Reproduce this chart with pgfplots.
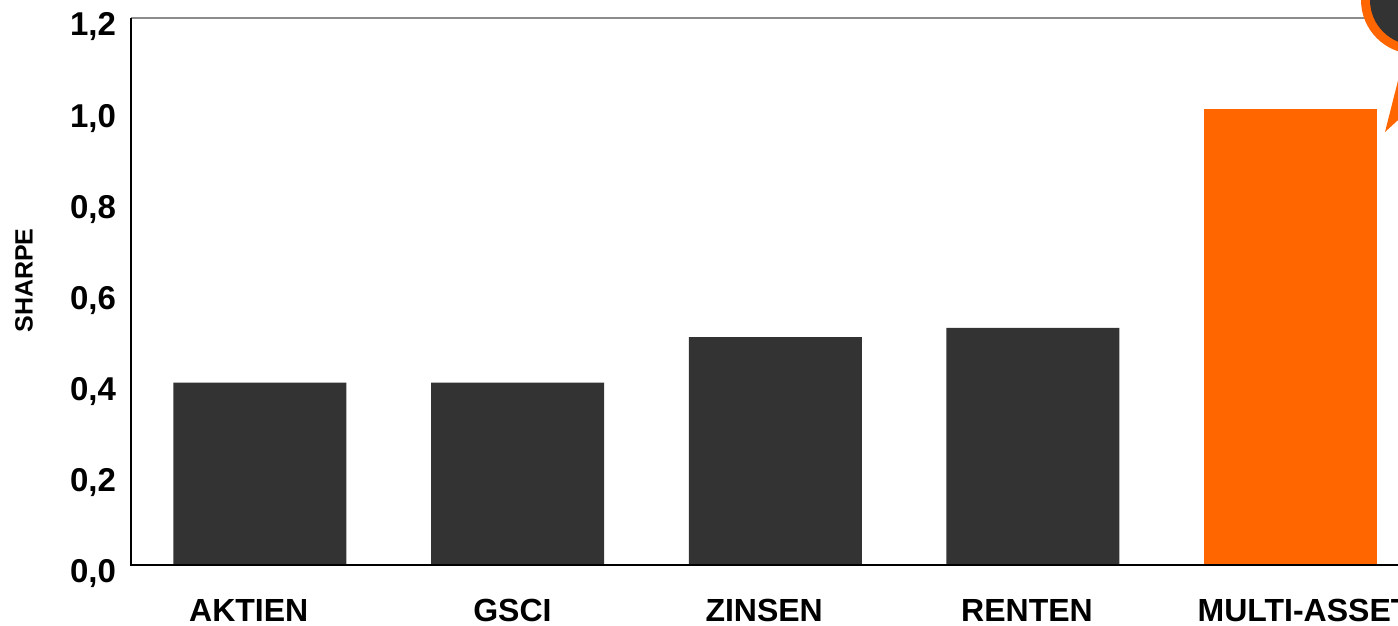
\documentclass[border=0pt]{standalone}
\usepackage{pgfplots}
\pgfplotsset{compat=1.18}
\usepackage{fontspec}
\setmainfont{Liberation Sans}
\definecolor{bardark}{HTML}{333333}
\definecolor{barorange}{HTML}{FF6600}
\definecolor{framegray}{HTML}{8C8C8C}

\begin{document}
\begin{tikzpicture}
\path[use as bounding box] (0,0) rectangle (699pt,313pt);
\begin{axis}[
  at={(65.5pt,30.5pt)}, anchor=south west,
  scale only axis,
  width=644.25pt, height=273.5pt,
  xmin=-0.5, xmax=4.5,
  ymin=0, ymax=1.2,
  axis line style={draw=none},
  ytick={0,0.2,0.4,0.6,0.8,1.0,1.2},
  % category labels sit slightly off the bar centres
  xtick={-0.043,0.98,1.957,2.977,4.052},
  xticklabels={AKTIEN,GSCI,ZINSEN,RENTEN,MULTI-ASSET},
  major tick length=0pt,
  /pgf/number format/assume math mode=true,
  /pgf/number format/fixed,
  /pgf/number format/fixed zerofill,
  /pgf/number format/precision=1,
  /pgf/number format/use comma,
  yticklabel style={font=\fontsize{16.5pt}{19pt}\selectfont\bfseries, xshift=-4pt, yshift=-4.5pt},
  xticklabel style={font=\fontsize{16pt}{19pt}\selectfont\bfseries, yshift=-13.5pt},
  ylabel={SHARPE},
  ylabel style={font=\fontsize{12.5pt}{15pt}\selectfont\bfseries,
    at={(axis description cs:-0.083,0.52)}, anchor=center},
  ybar, bar width=86.5pt,
  clip=false,
]
\addplot[fill=bardark, draw=none, bar shift=0pt] coordinates {(0,0.40) (1,0.40) (2,0.50) (3,0.52)};
\addplot[fill=barorange, draw=none, bar shift=0pt] coordinates {(4,1.00)};
% frame: grey top edge, black left and bottom edges
\draw[framegray, line width=1pt] (rel axis cs:0,1) -- (rel axis cs:1,1);
\draw[black, line width=1.1pt] (rel axis cs:0,1) -- (rel axis cs:0,0) -- (rel axis cs:1,0);
\end{axis}
% speech-bubble callout in the upper right corner
\begin{scope}[shift={(0pt,313pt)}]
  \fill[barorange] (692.5pt,-66pt) -- (703.5pt,-22.5pt) -- (722.5pt,-38.5pt) -- cycle;
  \fill[barorange] (707.5pt,0pt) circle[radius=27pt];
  \fill[bardark] (707.5pt,0pt) circle[radius=22.5pt];
\end{scope}
\end{tikzpicture}
\end{document}
